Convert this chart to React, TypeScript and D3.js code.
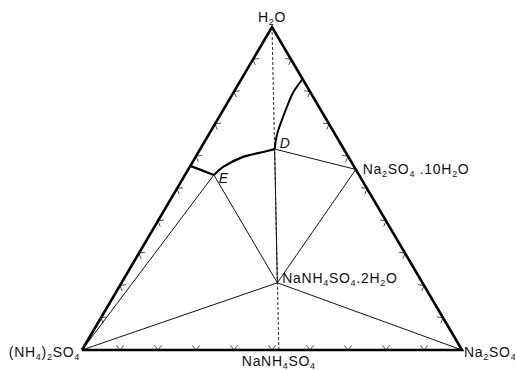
import React from "react";
import * as d3 from "d3";

// Compositions are weight fractions: [H2O, Na2SO4]; (NH4)2SO4 is the remainder.
const vertexH2O: [number, number] = [1, 0];
const vertexNa2SO4: [number, number] = [0, 1];
const vertexAmmSulf: [number, number] = [0, 0];

const doubleSalt: [number, number] = [0, 0.518]; // NaNH4SO4
const doubleSaltHydrate: [number, number] = [0.208, 0.41]; // NaNH4SO4.2H2O
const decahydrate: [number, number] = [0.559, 0.441]; // Na2SO4.10H2O

const pointD: [number, number] = [0.622, 0.196];
const pointE: [number, number] = [0.542, 0.076];

// Saturation curve of (NH4)2SO4, from the binary edge to E
const ammSulfCurve: [number, number][] = [
  [0.57, 0],
  [0.542, 0.076],
];
// Saturation curve of the double salt hydrate, E to D
const doubleSaltCurve: [number, number][] = [
  [0.542, 0.076],
  [0.567, 0.088],
  [0.598, 0.125],
  [0.613, 0.17],
  [0.622, 0.196],
];
// Saturation curve of Na2SO4.10H2O, D to the binary edge
const decahydrateCurve: [number, number][] = [
  [0.622, 0.196],
  [0.666, 0.18],
  [0.712, 0.17],
  [0.752, 0.163],
  [0.796, 0.157],
  [0.839, 0.161],
];

const edgeTicks = [0.1, 0.2, 0.3, 0.4, 0.5, 0.6, 0.7, 0.8, 0.9];

const W = 515;
const H = 370;

const xScale = d3.scaleLinear().domain([0, 1]).range([82, 462]);
const yScale = d3.scaleLinear().domain([0, 1]).range([350, 27]);

const project = ([w, na]: [number, number]): [number, number] => [
  xScale(na + w / 2),
  yScale(w),
];

const lineGen = d3
  .line<[number, number]>()
  .x((d) => project(d)[0])
  .y((d) => project(d)[1]);

const smoothGen = d3
  .line<[number, number]>()
  .x((d) => project(d)[0])
  .y((d) => project(d)[1])
  .curve(d3.curveCatmullRom.alpha(0.5));

const FONT = "'Liberation Sans', Arial, sans-serif";

function Sub({ children }: { children: React.ReactNode }) {
  return (
    <tspan fontSize={9} dy={3}>
      {children}
    </tspan>
  );
}
function Up({ children }: { children: React.ReactNode }) {
  return <tspan dy={-3}>{children}</tspan>;
}

function tickMarks() {
  const tri = [vertexAmmSulf, vertexNa2SO4, vertexH2O].map(project);
  const centroid = [
    (tri[0][0] + tri[1][0] + tri[2][0]) / 3,
    (tri[0][1] + tri[1][1] + tri[2][1]) / 3,
  ];
  const edges: [number, number][] = [
    [0, 1],
    [1, 2],
    [2, 0],
  ];
  const marks: string[] = [];
  const len = 6;
  const ang = (38 * Math.PI) / 180;
  edges.forEach(([a, b]) => {
    const pa = tri[a];
    const pb = tri[b];
    edgeTicks.forEach((t) => {
      const px = pa[0] + (pb[0] - pa[0]) * t;
      const py = pa[1] + (pb[1] - pa[1]) * t;
      let nx = -(pb[1] - pa[1]);
      let ny = pb[0] - pa[0];
      const nl = Math.hypot(nx, ny);
      nx /= nl;
      ny /= nl;
      if ((centroid[0] - px) * nx + (centroid[1] - py) * ny < 0) {
        nx = -nx;
        ny = -ny;
      }
      const rot = (s: number): [number, number] => [
        nx * Math.cos(s) - ny * Math.sin(s),
        nx * Math.sin(s) + ny * Math.cos(s),
      ];
      const a1 = rot(ang);
      const a2 = rot(-ang);
      marks.push(
        `M${px + a1[0] * len},${py + a1[1] * len}L${px},${py}L${px + a2[0] * len},${py + a2[1] * len}`
      );
    });
  });
  return marks;
}

export default function App() {
  const [tx, ty] = project(vertexH2O);
  const [lx, ly] = project(vertexAmmSulf);
  const [rx, ry] = project(vertexNa2SO4);
  const [dsx, dsy] = project(doubleSalt);
  const [hx, hy] = project(doubleSaltHydrate);
  const [kx, ky] = project(decahydrate);
  const [dx, dy] = project(pointD);
  const [ex, ey] = project(pointE);

  const tieLines: [number, number][][] = [
    [pointE, vertexAmmSulf],
    [pointE, doubleSaltHydrate],
    [pointD, doubleSaltHydrate],
    [pointD, decahydrate],
    [decahydrate, doubleSaltHydrate],
    [doubleSaltHydrate, vertexAmmSulf],
    [doubleSaltHydrate, vertexNa2SO4],
  ];

  return (
    <svg
      width={W}
      height={H}
      style={{ position: "absolute", left: 0, top: 0, background: "#fff" }}
      fontFamily={FONT}
    >
      <rect width={W} height={H} fill="#fff" />
      {/* water – double salt join */}
      <path
        d={lineGen([vertexH2O, doubleSalt]) || ""}
        stroke="#111"
        strokeWidth={0.9}
        strokeDasharray="3,2"
        fill="none"
      />
      {tieLines.map((seg, i) => (
        <path key={i} d={lineGen(seg) || ""} stroke="#111" strokeWidth={1} fill="none" />
      ))}
      {tickMarks().map((d, i) => (
        <path key={`t${i}`} d={d} stroke="#222" strokeWidth={0.8} fill="none" />
      ))}
      {/* saturation curves */}
      <path d={lineGen(ammSulfCurve) || ""} stroke="#000" strokeWidth={2.2} fill="none" />
      <path d={smoothGen(doubleSaltCurve) || ""} stroke="#000" strokeWidth={2.2} fill="none" />
      <path d={smoothGen(decahydrateCurve) || ""} stroke="#000" strokeWidth={2} fill="none" />
      {/* triangle */}
      <path
        d={lineGen([vertexAmmSulf, vertexNa2SO4, vertexH2O, vertexAmmSulf]) || ""}
        stroke="#000"
        strokeWidth={2.6}
        strokeLinejoin="miter"
        fill="none"
      />

      <g fill="#111" fontSize={14} letterSpacing={0.7}>
        <text x={tx} y={ty - 5} textAnchor="middle">
          H<Sub>2</Sub>
          <Up>O</Up>
        </text>
        <text x={lx - 2} y={ly + 7} textAnchor="end">
          (NH<Sub>4</Sub>
          <Up>)</Up>
          <Sub>2</Sub>
          <Up>SO</Up>
          <Sub>4</Sub>
        </text>
        <text x={rx + 2} y={ry + 7}>
          Na<Sub>2</Sub>
          <Up>SO</Up>
          <Sub>4</Sub>
        </text>
        <text x={dsx} y={dsy + 16} textAnchor="middle">
          NaNH<Sub>4</Sub>
          <Up>SO</Up>
          <Sub>4</Sub>
        </text>
        <text x={kx + 7} y={ky + 5}>
          Na<Sub>2</Sub>
          <Up>SO</Up>
          <Sub>4</Sub>
          <Up> .10H</Up>
          <Sub>2</Sub>
          <Up>O</Up>
        </text>
        <text x={hx + 5} y={hy}>
          NaNH<Sub>4</Sub>
          <Up>SO</Up>
          <Sub>4</Sub>
          <Up>.2H</Up>
          <Sub>2</Sub>
          <Up>O</Up>
        </text>
        <text x={dx + 5} y={dy - 1} fontStyle="italic">
          D
        </text>
        <text x={ex + 5} y={ey + 8} fontStyle="italic">
          E
        </text>
      </g>
    </svg>
  );
}
